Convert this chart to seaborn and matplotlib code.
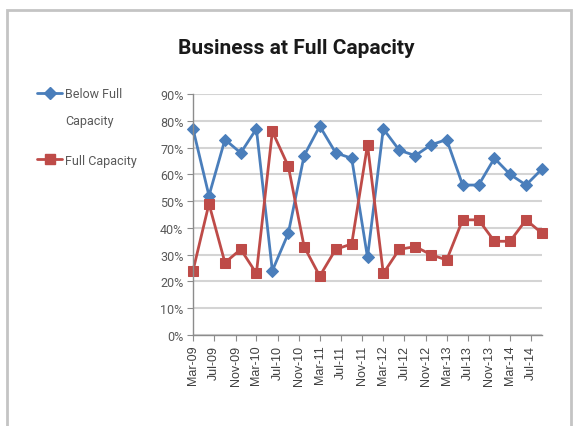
import matplotlib
matplotlib.use("Agg")
import matplotlib.pyplot as plt
import matplotlib.dates as mdates
from matplotlib import font_manager
from matplotlib.lines import Line2D
from matplotlib.patches import Rectangle
from matplotlib.ticker import PercentFormatter
import pandas as pd
import seaborn as sns

# Survey quarters (first day of the month)
quarters = [
    "2009-03-01", "2009-06-01", "2009-09-01", "2009-12-01",
    "2010-03-01", "2010-06-01", "2010-09-01", "2010-12-01",
    "2011-03-01", "2011-06-01", "2011-09-01", "2011-12-01",
    "2012-03-01", "2012-06-01", "2012-09-01", "2012-12-01",
    "2013-03-01", "2013-06-01", "2013-09-01", "2013-12-01",
    "2014-03-01", "2014-06-01", "2014-09-01",
]
below_full = [77, 52, 73, 68, 77, 24, 38, 67, 78, 68, 66, 29,
              77, 69, 67, 71, 73, 56, 56, 66, 60, 56, 62]
full_capacity = [24, 49, 27, 32, 23, 76, 63, 33, 22, 32, 34, 71,
                 23, 32, 33, 30, 28, 43, 43, 35, 35, 43, 38]

tick_months = [
    "2009-03-01", "2009-07-01", "2009-11-01", "2010-03-01", "2010-07-01",
    "2010-11-01", "2011-03-01", "2011-07-01", "2011-11-01", "2012-03-01",
    "2012-07-01", "2012-11-01", "2013-03-01", "2013-07-01", "2013-11-01",
    "2014-03-01", "2014-07-01",
]
y_ticks = [0, 10, 20, 30, 40, 50, 60, 70, 80, 90]

series_names = ["Below Full Capacity", "Full Capacity"]
colors = {"Below Full Capacity": "#4a7ebb", "Full Capacity": "#be4b48"}
markers = {"Below Full Capacity": "D", "Full Capacity": "s"}
marker_sizes = {"Below Full Capacity": 6.0, "Full Capacity": 7.0}

sns.set_theme(style="white")

available = {f.name for f in font_manager.fontManager.ttflist}
narrow = "Liberation Sans Narrow" if "Liberation Sans Narrow" in available else "Roboto"
regular = "Liberation Sans" if "Liberation Sans" in available else "DejaVu Sans"
plt.rcParams["font.family"] = [narrow, "DejaVu Sans"]

df = pd.DataFrame({
    "date": pd.to_datetime(quarters * 2),
    "value": below_full + full_capacity,
    "series": [series_names[0]] * len(quarters) + [series_names[1]] * len(quarters),
})

fig = plt.figure(figsize=(5.78, 4.27), dpi=100)
ax = fig.add_axes([193 / 578, 1 - 336 / 427, (542 - 193) / 578, (336 - 95) / 427])

for name in series_names:
    sub = df[df["series"] == name]
    sns.lineplot(data=sub, x="date", y="value", ax=ax, color=colors[name],
                 linewidth=2.0, marker=markers[name],
                 markersize=marker_sizes[name], markeredgecolor=colors[name],
                 markerfacecolor=colors[name], legend=False, clip_on=False)

ax.set_xlim(pd.Timestamp(quarters[0]), pd.Timestamp(quarters[-1]))
ax.set_ylim(0, 90)
ax.set_yticks(y_ticks)
ax.yaxis.set_major_formatter(PercentFormatter(100, decimals=0))
ax.set_xticks(pd.to_datetime(tick_months))
ax.xaxis.set_major_formatter(mdates.DateFormatter("%b-%y"))
ax.set_xlabel("")
ax.set_ylabel("")

ax.grid(axis="y", color="#d4d4d4", linewidth=1.5)
ax.set_axisbelow(True)
for side in ("top", "right"):
    ax.spines[side].set_visible(False)
for side in ("left", "bottom"):
    ax.spines[side].set_color("#8c8c8c")
    ax.spines[side].set_linewidth(1.0)

ax.tick_params(axis="y", direction="out", length=4, width=0.8, color="#8c8c8c",
               labelsize=9, labelcolor="#595959", pad=3, left=True)
ax.tick_params(axis="x", direction="out", length=4, width=0.8, color="#8c8c8c",
               labelsize=9, labelcolor="#404040", pad=3, bottom=True,
               labelrotation=90)
for lbl in ax.get_xticklabels():
    lbl.set_fontfamily([regular, "DejaVu Sans"])

# Title
fig.text(296 / 578, 1 - 49 / 427, "Business at Full Capacity",
         ha="center", va="center", fontsize=15, fontweight="bold",
         color="#1a1a1a")

# Legend on the left of the plot
handles = [
    Line2D([], [], color=colors[n], linewidth=2.0, marker=markers[n],
           markersize=marker_sizes[n], markeredgecolor=colors[n],
           markerfacecolor=colors[n])
    for n in series_names
]
leg = ax.legend(handles, ["Below Full", "Full Capacity"],
                loc="upper left", bbox_to_anchor=(37 / 578, 1 - 88 / 427),
                bbox_transform=fig.transFigure, frameon=False,
                fontsize=9, handlelength=2.0, handletextpad=0.25,
                borderpad=0, borderaxespad=0, labelspacing=4.3)
for t in leg.get_texts():
    t.set_color("#595959")
fig.text(65 / 578, 1 - 121 / 427, "Capacity", ha="left", va="center",
         fontsize=9, color="#595959")

# Chart area border
fig.patches.append(Rectangle((7 / 578, -0.05), (571 - 7) / 578, 1 - 11 / 427 + 0.05,
                             transform=fig.transFigure, fill=False,
                             edgecolor="#c4c4c4", linewidth=2.0))

fig.savefig("out.png", dpi=100)
